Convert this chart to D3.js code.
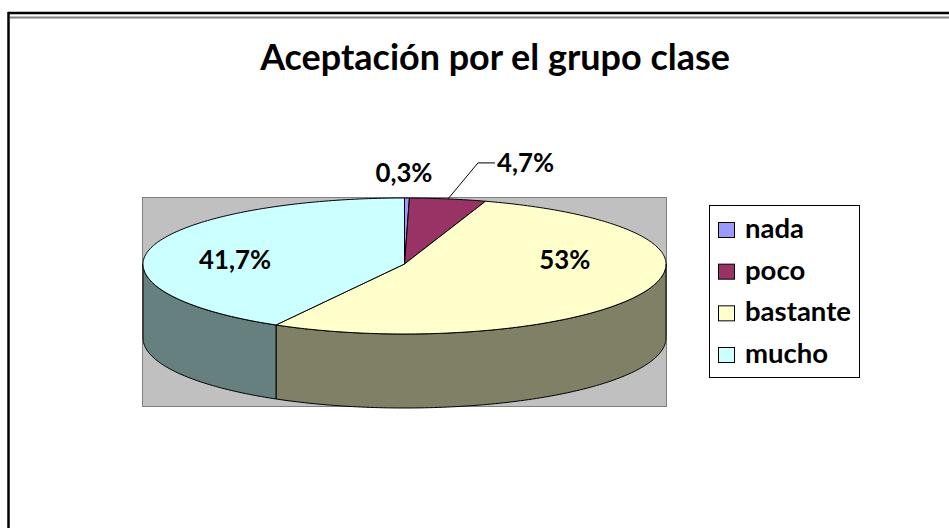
<!DOCTYPE html>
<html>
<head>
<meta charset="utf-8">
<script src="https://cdnjs.cloudflare.com/ajax/libs/d3/7.8.5/d3.min.js"></script>
<style>
  body { margin: 0; background: #fff; }
  svg { display: block; }
  text { font-family: Lato, "Open Sans", sans-serif; font-weight: bold; fill: #000; }
</style>
</head>
<body>
<script>
// Data
const categories = ["nada", "poco", "bastante", "mucho"];
const values = [0.3, 4.7, 53, 41.7];
const labels = ["0,3%", "4,7%", "53%", "41,7%"];
const topColors = ["#9999FF", "#993366", "#FFFFCC", "#CCFFFF"];
const sideColors = ["#5C5C99", "#5C1F3D", "#808066", "#668080"];

const width = 949, height = 528;

// pie geometry (ellipse with slight perspective: front half taller than back)
const cx = 404.5, cy = 264, rx = 261.5, ryBack = 66, ryFront = 70, depth = 74;

const svg = d3.select("body").append("svg")
  .attr("width", width)
  .attr("height", height);

// chart frame
svg.append("rect").attr("x", 0).attr("y", 0).attr("width", width).attr("height", height).attr("fill", "#fff");
svg.append("line").attr("x1", 8.5).attr("x2", 8.5).attr("y1", 12).attr("y2", height).attr("stroke", "#000").attr("stroke-width", 2.5);
svg.append("line").attr("x1", 8).attr("x2", width).attr("y1", 13).attr("y2", 13).attr("stroke", "#000").attr("stroke-width", 2.5);
svg.append("line").attr("x1", 10).attr("x2", width).attr("y1", 17.5).attr("y2", 17.5).attr("stroke", "#808080").attr("stroke-width", 2);

// size a text so it spans a target width, returns the size
function fit(sel, target) {
  const w = sel.node().getComputedTextLength();
  const fs = parseFloat(sel.attr("font-size")) * target / w;
  sel.attr("font-size", fs);
  return fs;
}

// title
const title = svg.append("text")
  .attr("x", 495).attr("y", 70)
  .attr("text-anchor", "middle")
  .attr("font-size", 32)
  .text("Aceptación por el grupo clase");
fit(title, 470);

// plot area
svg.append("rect")
  .attr("x", 142.5).attr("y", 197.5)
  .attr("width", 524).attr("height", 209)
  .attr("fill", "#C0C0C0")
  .attr("stroke", "#808080").attr("stroke-width", 1);

const pie = d3.pie().sort(null).value(d => d)(values);

function pt(a, dy) {
  const c = Math.cos(a);
  return [cx + rx * Math.sin(a), cy - (c > 0 ? ryBack : ryFront) * c + (dy || 0)];
}
function sampled(a0, a1) {
  const n = Math.max(2, Math.ceil(Math.abs(a1 - a0) / (Math.PI / 180)));
  return d3.range(n + 1).map(i => a0 + (a1 - a0) * i / n);
}
const line = d3.line();

// sides (front half, from pi/2 to 3pi/2)
pie.forEach((s, i) => {
  const a0 = Math.max(s.startAngle, Math.PI / 2);
  const a1 = Math.min(s.endAngle, 3 * Math.PI / 2);
  if (a1 <= a0) return;
  const angs = sampled(a0, a1);
  const pts = angs.map(a => pt(a, 0)).concat(angs.slice().reverse().map(a => pt(a, depth)));
  svg.append("path")
    .attr("d", line(pts) + "Z")
    .attr("fill", sideColors[i])
    .attr("stroke", "#000").attr("stroke-width", 1)
    .attr("stroke-linejoin", "round");
});

// top faces
pie.forEach((s, i) => {
  const pts = [[cx, cy]].concat(sampled(s.startAngle, s.endAngle).map(a => pt(a, 0)));
  svg.append("path")
    .attr("d", line(pts) + "Z")
    .attr("fill", topColors[i])
    .attr("stroke", "#000").attr("stroke-width", 1)
    .attr("stroke-linejoin", "round");
});

// label size: "41,7%" spans about 73px in the reference
const probe = svg.append("text").attr("font-size", 20).text(labels[3]);
const labelSize = fit(probe, 72);
probe.remove();

// data labels
pie.forEach((s, i) => {
  const mid = (s.startAngle + s.endAngle) / 2;
  const edge = pt(mid, 0);
  let t;
  if (values[i] < 1) {
    // tiny slice: label above the pie
    t = svg.append("text").attr("x", edge[0] - 3).attr("y", cy - ryBack - 16)
      .attr("text-anchor", "middle");
  } else if (values[i] < 10) {
    // small slice: leader line out to the label
    const elbow = [edge[0] + 30, edge[1] - 36];
    const end = [elbow[0] + 17, elbow[1]];
    svg.append("path").attr("d", line([edge, elbow, end]))
      .attr("fill", "none").attr("stroke", "#000").attr("stroke-width", 1);
    t = svg.append("text").attr("x", end[0] + 2).attr("y", end[1] + 9)
      .attr("text-anchor", "start");
  } else {
    t = svg.append("text").attr("x", cx + rx * 0.67 * Math.sin(mid)).attr("y", cy + 5)
      .attr("text-anchor", "middle");
  }
  t.attr("font-size", labelSize).text(labels[i]);
});

// legend
const lg = svg.append("g");
lg.append("rect")
  .attr("x", 709.5).attr("y", 205.5).attr("width", 150).attr("height", 172)
  .attr("fill", "#fff").attr("stroke", "#000").attr("stroke-width", 1);
const ly = d3.scalePoint().domain(categories).range([230, 355]);
const lprobe = svg.append("text").attr("font-size", 22).text("bastante");
const legendSize = fit(lprobe, 106);
lprobe.remove();
categories.forEach((c, i) => {
  lg.append("rect")
    .attr("x", 718.5).attr("y", ly(c) - 7.5).attr("width", 16).attr("height", 15)
    .attr("fill", topColors[i]).attr("stroke", "#000").attr("stroke-width", 1);
  lg.append("text")
    .attr("x", 745).attr("y", ly(c) + 8)
    .attr("font-size", legendSize).text(c);
});
</script>
</body>
</html>
